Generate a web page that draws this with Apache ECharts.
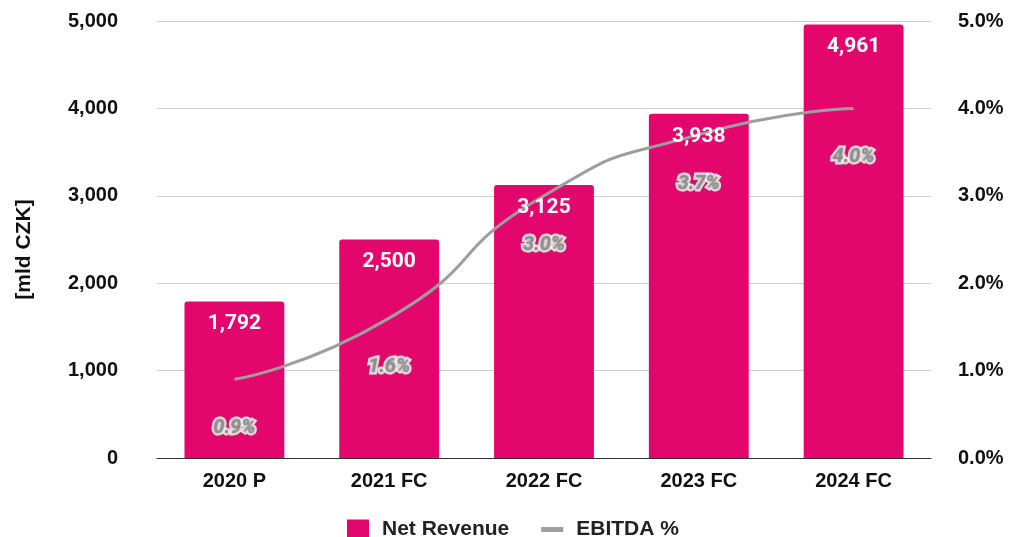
<!DOCTYPE html>
<html><head><meta charset="utf-8">
<script src="https://cdn.jsdelivr.net/npm/echarts@6/dist/echarts.min.js"></script>
<style>html,body{margin:0;padding:0;background:#fff}#c{width:1020px;height:537px}</style>
</head><body><div id="c"></div>
<script>
const categories = ['2020 P', '2021 FC', '2022 FC', '2023 FC', '2024 FC'];
const netRevenue = [1792, 2500, 3125, 3938, 4961];
const ebitdaPct = [0.9, 1.6, 3.0, 3.7, 4.0];
const leftTicks = [0, 1000, 2000, 3000, 4000, 5000];
const rightTicks = [0, 1, 2, 3, 4, 5];

const chart = echarts.init(document.getElementById('c'));
const font = '"Liberation Sans", Arial, sans-serif';
const magenta = '#E3066D';
chart.setOption({
  animation: false,
  textStyle: { fontFamily: font },
  grid: { left: 157, right: 89, top: 21, bottom: 79 },
  legend: {
    top: 514, left: 342, itemGap: 32, itemWidth: 22, itemHeight: 20,
    textStyle: { fontSize: 21, fontWeight: 'bold', color: '#222', fontFamily: font, padding: [0, 0, 0, 8] },
    data: [
      { name: 'Net Revenue', icon: 'rect', itemStyle: { color: magenta } },
      { name: 'EBITDA %', icon: 'path://M0,0 L22,0 L22,5 L0,5 Z', itemStyle: { color: '#9e9e9e' } }
    ]
  },
  xAxis: {
    type: 'category', data: categories,
    axisLine: { lineStyle: { color: '#333', width: 1 } },
    axisTick: { show: false },
    axisLabel: { fontSize: 20, fontWeight: 'bold', color: '#111', margin: 13, fontFamily: font }
  },
  yAxis: [{
    type: 'value', min: leftTicks[0], max: leftTicks[leftTicks.length - 1], interval: 1000,
    name: '[mld CZK]', nameLocation: 'middle', nameGap: 122, nameRotate: 90,
    nameTextStyle: { fontSize: 21, fontWeight: 'bold', color: '#111', fontFamily: font, padding: [0, 20, 0, 0] },
    axisLine: { show: false }, axisTick: { show: false },
    splitLine: { lineStyle: { color: '#cfcfcf', width: 1 } },
    axisLabel: { fontSize: 20, fontWeight: 'bold', color: '#111', margin: 39, fontFamily: font,
      formatter: v => v.toLocaleString('en-US') }
  }, {
    type: 'value', min: rightTicks[0], max: rightTicks[rightTicks.length - 1], interval: 1,
    axisLine: { show: false }, axisTick: { show: false }, splitLine: { show: false },
    axisLabel: { fontSize: 20, fontWeight: 'bold', color: '#111', margin: 27, fontFamily: font,
      formatter: v => v.toFixed(1) + '%' }
  }],
  series: [{
    name: 'Net Revenue', type: 'bar', data: netRevenue, barWidth: '64.5%',
    itemStyle: { color: magenta, borderRadius: [3, 3, 0, 0] },
    z: 1
  }, {
    name: 'EBITDA %', type: 'line', yAxisIndex: 1, data: ebitdaPct, smooth: 0.6,
    symbol: 'none',
    lineStyle: { color: '#9e9e9e', width: 3 }, itemStyle: { color: '#9e9e9e' },
    z: 3
  }, {
    name: 'Revenue labels', type: 'bar', data: netRevenue, barWidth: '64.5%', barGap: '-100%',
    itemStyle: { color: 'rgba(0,0,0,0)' }, silent: true,
    label: { show: true, position: 'insideTop', distance: 12, color: '#fff', fontSize: 21,
      fontWeight: 'bold', fontFamily: 'Roboto, sans-serif', formatter: p => p.value.toLocaleString('en-US') },
    z: 5
  }, {
    name: 'EBITDA labels', type: 'scatter', yAxisIndex: 1, data: ebitdaPct,
    symbolSize: 0, silent: true,
    label: { show: true, position: 'bottom', distance: 39, color: '#8c8c8c', fontSize: 20,
      fontWeight: 'bold', fontStyle: 'italic', fontFamily: 'Roboto, sans-serif',
      textBorderColor: '#fff', textBorderWidth: 5,
      textShadowColor: 'rgba(110,110,110,0.9)', textShadowBlur: 2,
      formatter: p => p.value.toFixed(1) + '%' },
    z: 6
  }]
});
</script></body></html>
